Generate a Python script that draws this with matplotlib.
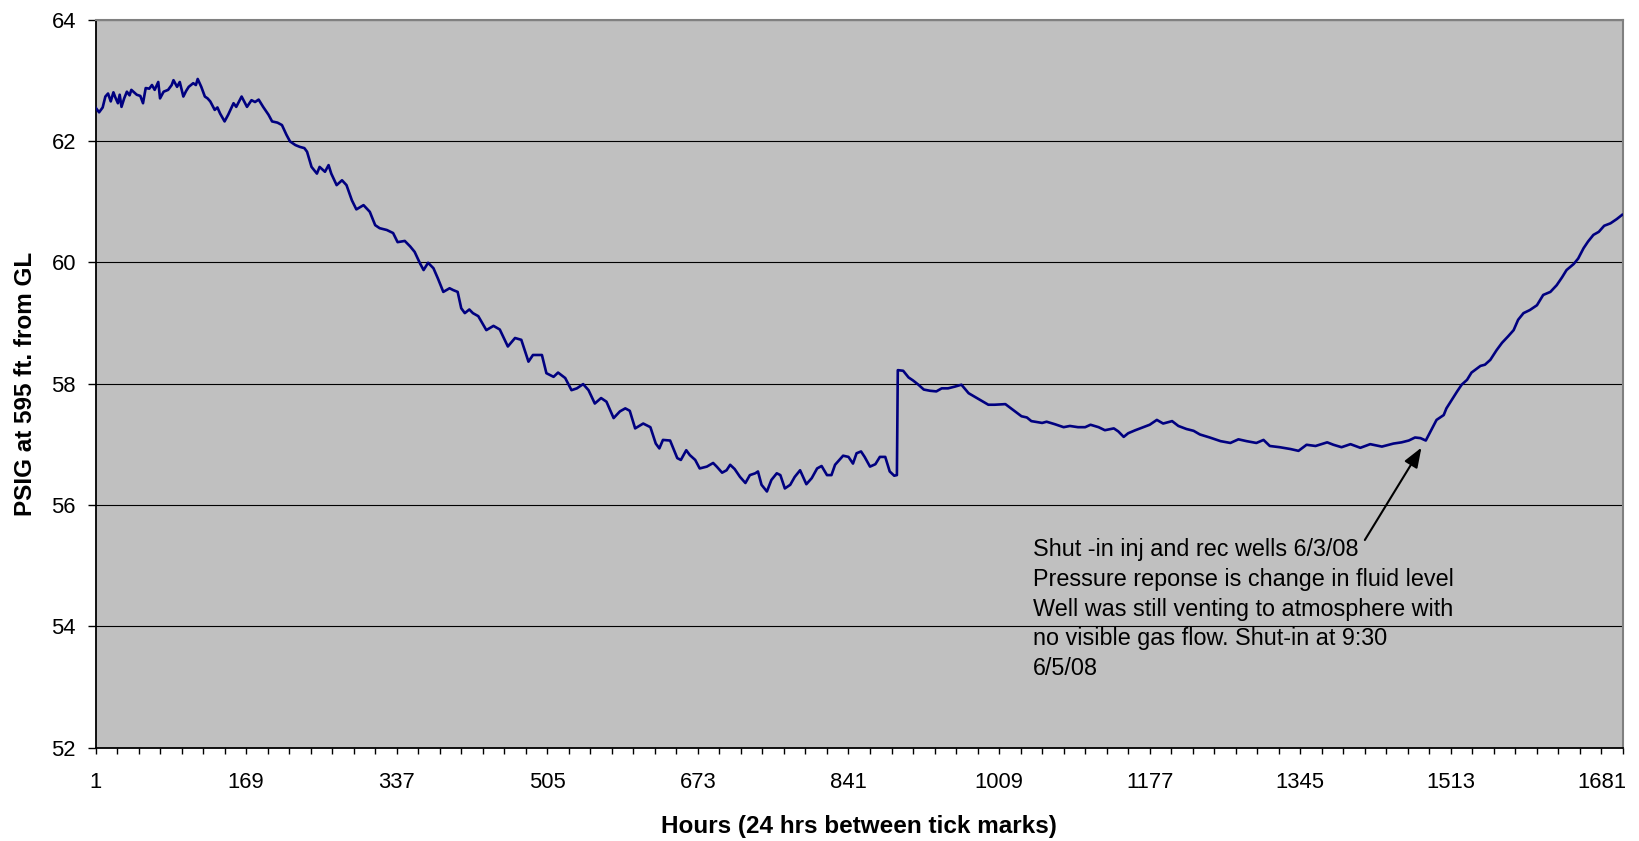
import matplotlib
matplotlib.use("Agg")
import matplotlib.pyplot as plt
from matplotlib.patches import ArrowStyle

plt.rcParams['font.family'] = ['Liberation Sans', 'DejaVu Sans']

# ---- data ----
hours = [1, 5, 9, 12, 15, 18, 21, 23, 26, 28, 30, 33, 36, 39, 41, 44, 47, 51, 54, 57,
         61, 64, 67, 71, 73, 77, 82, 86, 88, 92, 95, 99, 102, 105, 110, 113, 115, 119, 123, 126,
         129, 134, 137, 140, 145, 149, 155, 158, 164, 170, 175, 179, 183, 188, 194, 198, 204, 209, 214, 218,
         224, 229, 234, 237, 242, 248, 251, 257, 261, 264, 270, 276, 281, 287, 292, 300, 307, 313, 318, 326,
         333, 338, 346, 352, 357, 363, 367, 372, 378, 383, 389, 396, 400, 405, 409, 413, 418, 422, 428, 437,
         445, 452, 461, 469, 476, 484, 489, 499, 504, 512, 517, 525, 532, 538, 545, 551, 558, 565, 571, 579,
         586, 592, 597, 603, 612, 620, 626, 630, 634, 642, 650, 654, 660, 664, 670, 675, 683, 690, 694, 700,
         705, 709, 714, 720, 726, 731, 737, 740, 744, 750, 755, 761, 765, 770, 776, 781, 787, 794, 800, 806,
         811, 817, 822, 826, 835, 841, 846, 850, 855, 859, 865, 871, 876, 882, 887, 892, 895, 896, 902, 908,
         913, 919, 925, 932, 939, 945, 952, 960, 967, 975, 982, 990, 997, 1004, 1016, 1025, 1034, 1040, 1045, 1057,
         1062, 1071, 1081, 1088, 1097, 1105, 1111, 1120, 1127, 1137, 1142, 1148, 1153, 1161, 1170, 1177, 1185, 1192, 1202, 1209,
         1218, 1226, 1233, 1244, 1256, 1267, 1276, 1285, 1296, 1304, 1311, 1322, 1334, 1343, 1352, 1362, 1375, 1382, 1391, 1401,
         1412, 1423, 1436, 1449, 1458, 1466, 1473, 1479, 1485, 1492, 1497, 1505, 1508, 1514, 1520, 1525, 1531, 1536, 1546, 1551,
         1557, 1564, 1570, 1577, 1583, 1588, 1594, 1601, 1609, 1616, 1624, 1631, 1637, 1642, 1650, 1655, 1661, 1666, 1672, 1678,
         1684, 1691, 1698, 1704]

pressure = [62.55, 62.47, 62.55, 62.73, 62.78, 62.65, 62.80, 62.72, 62.62, 62.76, 62.56, 62.70, 62.81, 62.75, 62.84, 62.80, 62.76, 62.74, 62.62, 62.87,
            62.86, 62.92, 62.84, 62.97, 62.70, 62.81, 62.84, 62.92, 63.00, 62.89, 62.97, 62.73, 62.82, 62.89, 62.95, 62.92, 63.02, 62.89, 62.73, 62.70,
            62.65, 62.51, 62.55, 62.45, 62.32, 62.43, 62.62, 62.56, 62.73, 62.56, 62.67, 62.64, 62.68, 62.56, 62.43, 62.32, 62.30, 62.26, 62.10, 61.99,
            61.93, 61.90, 61.88, 61.82, 61.57, 61.46, 61.57, 61.49, 61.60, 61.46, 61.27, 61.35, 61.27, 61.02, 60.87, 60.94, 60.83, 60.61, 60.56, 60.53,
            60.48, 60.33, 60.35, 60.26, 60.17, 59.98, 59.87, 59.99, 59.90, 59.73, 59.51, 59.57, 59.54, 59.51, 59.24, 59.16, 59.22, 59.16, 59.11, 58.88,
            58.95, 58.89, 58.61, 58.75, 58.72, 58.36, 58.47, 58.47, 58.17, 58.11, 58.18, 58.09, 57.89, 57.92, 57.99, 57.89, 57.67, 57.76, 57.70, 57.43,
            57.54, 57.59, 57.55, 57.26, 57.34, 57.28, 57.01, 56.93, 57.07, 57.06, 56.77, 56.74, 56.90, 56.82, 56.74, 56.60, 56.63, 56.69, 56.63, 56.53,
            56.57, 56.66, 56.59, 56.46, 56.36, 56.49, 56.52, 56.55, 56.33, 56.22, 56.41, 56.52, 56.49, 56.27, 56.33, 56.46, 56.57, 56.34, 56.44, 56.60,
            56.64, 56.49, 56.49, 56.66, 56.81, 56.79, 56.68, 56.85, 56.88, 56.79, 56.63, 56.67, 56.79, 56.79, 56.55, 56.48, 56.49, 58.22, 58.21, 58.10,
            58.05, 57.98, 57.90, 57.88, 57.87, 57.92, 57.92, 57.95, 57.98, 57.84, 57.78, 57.71, 57.65, 57.65, 57.66, 57.56, 57.46, 57.44, 57.38, 57.35,
            57.37, 57.33, 57.28, 57.30, 57.28, 57.28, 57.32, 57.28, 57.23, 57.26, 57.21, 57.12, 57.18, 57.23, 57.28, 57.32, 57.40, 57.34, 57.38, 57.30,
            57.25, 57.22, 57.16, 57.11, 57.05, 57.02, 57.08, 57.05, 57.02, 57.07, 56.97, 56.95, 56.92, 56.89, 56.99, 56.97, 57.03, 56.99, 56.95, 57.00,
            56.94, 57.00, 56.96, 57.01, 57.03, 57.06, 57.11, 57.10, 57.06, 57.26, 57.40, 57.48, 57.59, 57.73, 57.87, 57.98, 58.06, 58.18, 58.29, 58.31,
            58.39, 58.55, 58.67, 58.78, 58.88, 59.05, 59.16, 59.21, 59.29, 59.46, 59.51, 59.62, 59.75, 59.87, 59.97, 60.06, 60.23, 60.34, 60.45, 60.50,
            60.60, 60.64, 60.71, 60.78]

x_tick_positions = list(range(1, 1706, 24))
x_tick_labels = ['1', '169', '337', '505', '673', '841', '1009', '1177', '1345', '1513', '1681']
y_ticks = [52, 54, 56, 58, 60, 62, 64]

shut_in_hour = 1485
note = ("Shut -in inj and rec wells 6/3/08\n"
        "Pressure reponse is change in fluid level\n"
        "Well was still venting to atmosphere with\n"
        "no visible gas flow. Shut-in at 9:30\n"
        "6/5/08")

# ---- figure ----
W, H = 1639, 841
fig = plt.figure(figsize=(W / 100, H / 100), dpi=100)
fig.patch.set_facecolor('white')
L, R, T, B = 95.5, 1623, 19.5, 747.5
ax = fig.add_axes([L / W, 1 - B / H, (R - L) / W, (B - T) / H])
ax.set_facecolor('#C0C0C0')

ax.plot(hours, pressure, color='#000080', lw=1.9, solid_joinstyle='round', zorder=3)

ax.set_xlim(1, 1705)
ax.set_ylim(52, 64)

ax.set_yticks(y_ticks)
ax.set_yticklabels([str(v) for v in y_ticks])
ax.yaxis.grid(True, color='black', lw=0.8)
ax.set_axisbelow(True)

lab_map = {1 + 168 * i: s for i, s in enumerate(x_tick_labels)}
ax.set_xticks(x_tick_positions)
ax.set_xticklabels([lab_map.get(p, '') for p in x_tick_positions])

ax.tick_params(axis='y', direction='out', length=6, width=1, pad=8, labelsize=15.8, colors='black')
ax.tick_params(axis='x', direction='out', length=4, width=1, pad=14, labelsize=15.8, colors='black')

for s in ['left', 'bottom']:
    ax.spines[s].set_color('black')
    ax.spines[s].set_linewidth(1.3)
for s in ['top', 'right']:
    ax.spines[s].set_color('#808080')
    ax.spines[s].set_linewidth(1.5)

fig.text(859 / W, 1 - 833.3 / H, 'Hours (24 hrs between tick marks)', ha='center', va='baseline',
         fontsize=17.5, fontweight='bold')
fig.text(25.5 / W, 1 - 383.5 / H, 'PSIG at 595 ft. from GL', ha='center', va='center',
         rotation=90, fontsize=17.5, fontweight='bold')

k = hours.index(shut_in_hour)
ax.annotate('', xy=(hours[k], pressure[k]), xytext=(1417, 55.42),
            arrowprops=dict(arrowstyle=ArrowStyle('-|>', head_length=12, head_width=4.5),
                            mutation_scale=1, color='black', lw=1.5, shrinkA=0, shrinkB=6),
            zorder=4)
ax.text(1046.5, 55.45, note, ha='left', va='top', fontsize=16.8, linespacing=1.37, color='black', zorder=5)

fig.savefig('out.png', dpi=100)
